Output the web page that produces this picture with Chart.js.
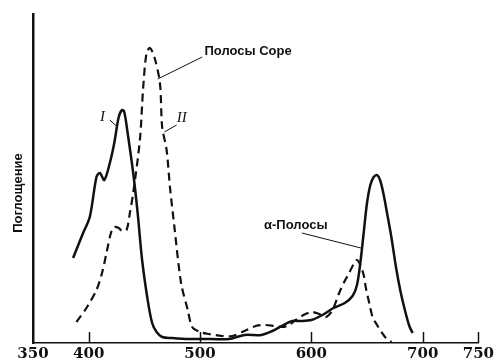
<!DOCTYPE html>
<html>
<head>
<meta charset="utf-8">
<script src="https://cdn.jsdelivr.net/npm/chart.js@4.4.1/dist/chart.umd.min.js"></script>
<style>
  html, body { margin: 0; padding: 0; background: #fff; }
  #wrap { width: 496px; height: 363px; }
</style>
</head>
<body>
<div id="wrap"><canvas id="spectrum"></canvas></div>
<script>
// wavelength (nm) and absorption (arbitrary units)
const CURVE_I_NM = [386, 395, 401, 407, 410, 414, 419, 423, 427, 430, 432, 435, 440, 444, 448, 453, 457, 461, 466, 475, 490, 510, 526, 540, 555, 565, 575, 583, 590, 600, 610, 620, 630, 637, 641, 644, 647, 650, 653, 656, 659, 662, 665, 668, 672, 676, 680, 684, 688, 691];
const CURVE_I_VAL = [85, 110, 126, 166, 170, 163, 180, 200, 226, 233, 231, 210, 170, 130, 83, 43, 20, 11, 6, 5, 4, 4, 4, 8, 8, 12, 18, 22, 22, 23, 28, 35, 40, 47, 58, 80, 110, 140, 158, 166, 168, 162, 148, 130, 105, 76, 52, 33, 17, 10];

const CURVE_II_NM = [389, 398, 407, 412, 416, 420, 423, 427, 430, 434, 437, 440, 446, 449, 452, 455, 459, 464, 466, 470, 473, 477, 483, 489, 493, 500, 508, 520, 529, 540, 550, 559, 567, 574, 580, 586, 593, 600, 607, 613, 619, 625, 630, 634, 638, 641, 644, 647, 649, 652, 655, 659, 663, 667, 672];
const CURVE_II_VAL = [21, 35, 53, 70, 90, 110, 116, 115, 112, 113, 130, 150, 203, 256, 290, 295, 286, 260, 216, 193, 156, 116, 60, 33, 16, 11, 9, 7, 7, 12, 17, 18, 17, 16, 18, 23, 28, 31, 29, 26, 33, 50, 62, 70, 79, 83, 78, 68, 55, 40, 26, 18, 11, 5, 1];

const X_TICKS = [350, 400, 500, 600, 700, 750];
const X_TICK_MARKS = [400, 500, 600, 700, 750];

const INK = '#111';

function points(xs, ys) {
  return xs.map((x, i) => ({ x: x, y: ys[i] }));
}

// labels and leader lines, placed in data units
const NOTES = [
  { text: 'Полосы Соре', at: [504, 292], line: [[502, 286], [462, 264]], font: 'bold 13px "Liberation Sans"', align: 'left' },
  { text: 'α-Полосы', at: [557.5, 118], line: [[591.5, 110], [644.5, 95]], font: 'bold 13px "Liberation Sans"', align: 'left' },
  { text: 'I', at: [412.5, 226], line: [[419, 223], [425, 217]], font: 'italic 15px "Liberation Serif"', align: 'center' },
  { text: 'II', at: [483.5, 225], line: [[479, 218], [468, 211]], font: 'italic 15px "Liberation Serif"', align: 'center' }
];

const extras = {
  id: 'extras',
  afterDraw(chart) {
    const ctx = chart.ctx;
    const x = chart.scales.x, y = chart.scales.y;
    ctx.save();
    ctx.strokeStyle = INK;
    ctx.fillStyle = INK;
    // tick marks pointing up into the plot
    ctx.lineWidth = 1.5;
    X_TICK_MARKS.forEach(v => {
      const px = Math.round(x.getPixelForValue(v)) + 0.5;
      ctx.beginPath();
      ctx.moveTo(px, y.bottom);
      ctx.lineTo(px, y.bottom - 11);
      ctx.stroke();
    });
    ctx.lineWidth = 1;
    NOTES.forEach(n => {
      ctx.beginPath();
      ctx.moveTo(x.getPixelForValue(n.line[0][0]), y.getPixelForValue(n.line[0][1]));
      ctx.lineTo(x.getPixelForValue(n.line[1][0]), y.getPixelForValue(n.line[1][1]));
      ctx.stroke();
      ctx.font = n.font;
      ctx.textAlign = n.align;
      ctx.textBaseline = 'middle';
      ctx.fillText(n.text, x.getPixelForValue(n.at[0]), y.getPixelForValue(n.at[1]));
    });
    // y axis caption
    ctx.translate(18, y.getPixelForValue(150));
    ctx.rotate(-Math.PI / 2);
    ctx.font = 'bold 13px "Liberation Sans"';
    ctx.textAlign = 'center';
    ctx.textBaseline = 'middle';
    ctx.fillText('Поглощение', 0, 0);
    ctx.restore();
  }
};

new Chart(document.getElementById('spectrum'), {
  type: 'line',
  data: {
    datasets: [{
      label: 'I',
      data: points(CURVE_I_NM, CURVE_I_VAL),
      borderColor: INK,
      borderWidth: 2.5,
      pointRadius: 0,
      tension: 0.3,
      fill: false
    }, {
      label: 'II',
      data: points(CURVE_II_NM, CURVE_II_VAL),
      borderColor: INK,
      borderWidth: 2.2,
      borderDash: [8, 5],
      pointRadius: 0,
      tension: 0.3,
      fill: false
    }]
  },
  plugins: [extras],
  options: {
    responsive: true,
    maintainAspectRatio: false,
    animation: false,
    layout: { padding: { top: 14, right: 16, left: 0, bottom: 0 } },
    plugins: {
      legend: { display: false },
      tooltip: { enabled: false }
    },
    scales: {
      x: {
        type: 'linear',
        min: 350,
        max: 750,
        afterBuildTicks: s => { s.ticks = X_TICKS.map(v => ({ value: v })); },
        afterFit: s => { s.height = 20; },
        grid: { display: false, drawTicks: false },
        border: { color: INK, width: 1.5 },
        ticks: {
          color: INK,
          padding: 2,
          autoSkip: false,
          maxRotation: 0,
          font: { family: 'DejaVu Serif', weight: 'bold', size: 15 }
        }
      },
      y: {
        min: 0,
        max: 329,
        afterFit: s => { s.width = 33; },
        grid: { display: false, drawTicks: false },
        border: { color: INK, width: 2.5 },
        ticks: { display: false }
      }
    }
  }
});
</script>
</body>
</html>
